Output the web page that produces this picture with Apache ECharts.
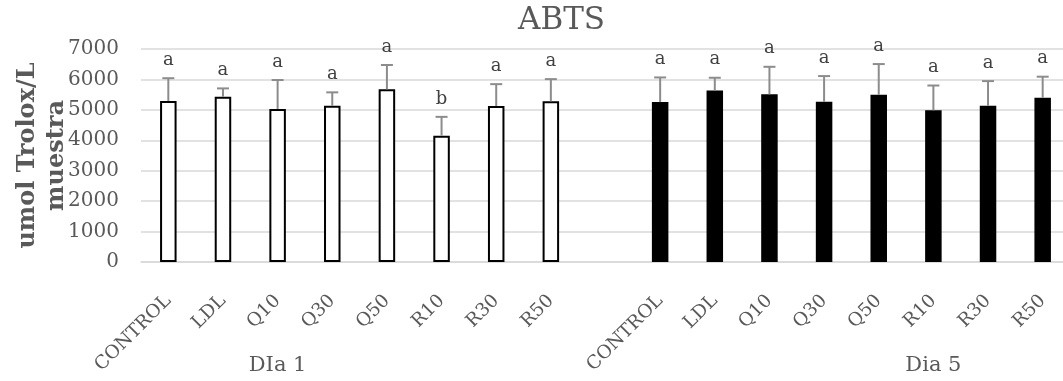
<!DOCTYPE html>
<html><head><meta charset="utf-8">
<script src="https://cdn.jsdelivr.net/npm/echarts@6/dist/echarts.min.js"></script>
<style>html,body{margin:0;padding:0;background:#fff}#c{width:1063px;height:381px}</style>
</head><body><div id="c"></div>
<script>
const treatments = ['CONTROL','LDL','Q10','Q30','Q50','R10','R30','R50'];
const groupLabels = ['DIa 1','Dia 5'];
const day1Mean  = [5290,5430,5030,5135,5675,4150,5125,5280];
const day1Upper = [6040,5705,5980,5575,6475,4770,5845,6010];
const day1Letters = ['a','a','a','a','a','b','a','a'];
const day5Mean  = [5255,5640,5510,5265,5495,4985,5135,5400];
const day5Upper = [6065,6055,6415,6110,6505,5800,5945,6090];
const day5Letters = ['a','a','a','a','a','a','a','a'];
const yMin = 0, yMax = 7000, yStep = 1000;

const n = treatments.length;
const categories = treatments.concat([''], treatments);
const blanks = new Array(n + 1).fill('-');
const bar1 = day1Mean.concat(blanks);
const bar5 = blanks.concat(day5Mean);
const groupAxis = categories.map(() => '');
groupAxis[2] = groupLabels[0];
groupAxis[n + 1 + 5] = groupLabels[1];

const errData = [], errLetters = [];
day1Mean.forEach((m, i) => { errData.push([i, day1Upper[i], m]); errLetters.push(day1Letters[i]); });
day5Mean.forEach((m, i) => { errData.push([i + n + 1, day5Upper[i], m]); errLetters.push(day5Letters[i]); });

const serif = 'DejaVu Serif';
const gray = '#595959';
const chart = echarts.init(document.getElementById('c'), null, {renderer: 'canvas'});
chart.setOption({
  animation: false,
  title: {
    text: 'ABTS', left: 513, top: 0,
    textStyle: {fontFamily: serif, fontSize: 31, fontWeight: 'normal', color: gray}
  },
  grid: {left: 141, top: 49, width: 929, bottom: 119, containLabel: false, outerBoundsMode: 'none'},
  xAxis: [{
    type: 'category', data: categories,
    axisLine: {show: true, lineStyle: {color: '#d9d9d9', width: 1.5}},
    axisTick: {show: false},
    axisLabel: {interval: 0, rotate: 45, margin: 36, fontFamily: serif, fontSize: 18.5, color: gray}
  }, {
    type: 'category', data: groupAxis, position: 'bottom',
    axisLine: {show: false}, axisTick: {show: false},
    axisLabel: {interval: 0, margin: 93, fontFamily: serif, fontSize: 21, color: gray}
  }],
  yAxis: {
    type: 'value', min: yMin, max: yMax, interval: yStep,
    name: 'umol Trolox/L\nmuestra', nameLocation: 'middle', nameRotate: 90, nameGap: 70,
    nameMoveOverlap: false,
    nameTextStyle: {fontFamily: serif, fontSize: 24, fontWeight: 'bold', color: gray, lineHeight: 29},
    axisLine: {show: false}, axisTick: {show: false},
    axisLabel: {margin: 22, fontFamily: serif, fontSize: 20, color: gray, formatter: v => String(v)},
    splitLine: {lineStyle: {color: '#d9d9d9', width: 1.5}}
  },
  series: [{
    type: 'bar', name: groupLabels[0], data: bar1, barWidth: 16.5, barGap: '-100%',
    itemStyle: {color: '#ffffff', borderColor: '#000000', borderWidth: 2}
  }, {
    type: 'bar', name: groupLabels[1], data: bar5, barWidth: 16.5, barGap: '-100%',
    itemStyle: {color: '#000000', borderColor: '#000000', borderWidth: 2}
  }, {
    type: 'custom', data: errData, z: 5,
    renderItem: function (params, api) {
      const x = api.value(0);
      const top = api.coord([x, api.value(1)]);
      const base = api.coord([x, api.value(2)]);
      const hw = 6;
      const st = {stroke: '#8c8c8c', lineWidth: 2};
      return {type: 'group', children: [
        {type: 'line', shape: {x1: top[0], y1: base[1], x2: top[0], y2: top[1]}, style: st},
        {type: 'line', shape: {x1: top[0] - hw, y1: top[1], x2: top[0] + hw, y2: top[1]}, style: st},
        {type: 'text', x: top[0], y: top[1] - 18, style: {
          text: errLetters[params.dataIndex], fill: '#404040',
          font: '18px "DejaVu Serif"', align: 'center', verticalAlign: 'middle'}}
      ]};
    }
  }]
});
</script></body></html>
